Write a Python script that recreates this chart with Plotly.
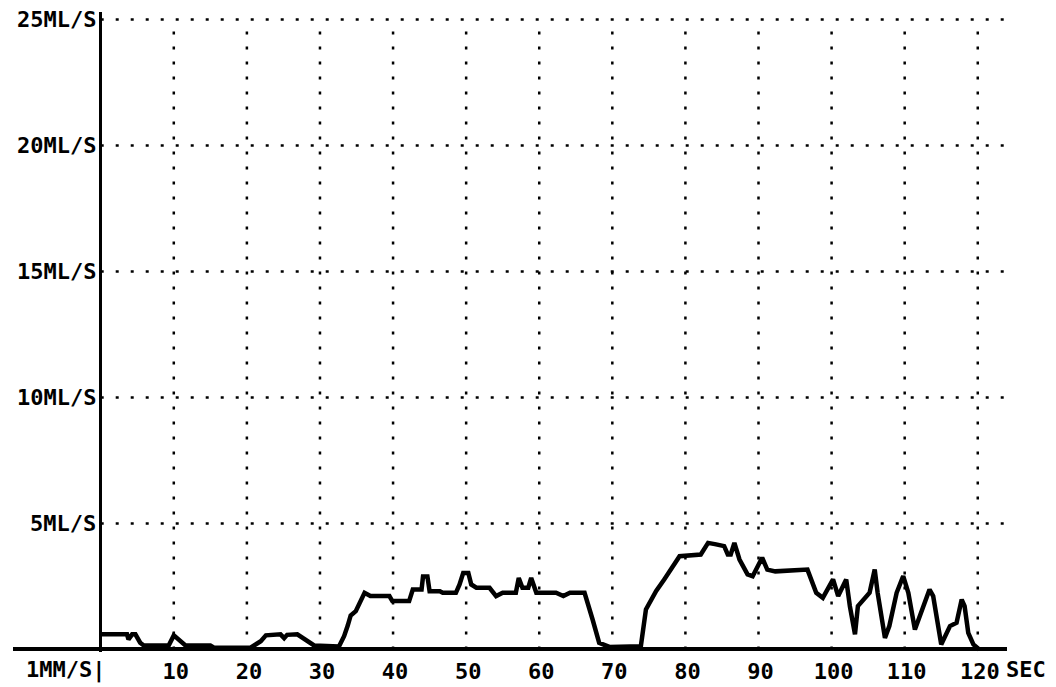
import plotly.graph_objects as go

# Flow curve (time in seconds, flow in ml/s)
t = [0.0, 3.6, 3.8, 4.3, 4.75, 5.4, 5.9, 9.3, 10.0, 10.9, 11.6, 15.0, 15.5, 20.5,
     21.9, 22.6, 24.6, 25.1, 25.5, 26.9, 27.6, 28.3, 29.2, 32.6, 33.3, 33.8, 34.2,
     34.9, 35.6, 36.1, 36.9, 37.6, 39.5, 39.9, 42.2, 42.7, 43.9, 44.1, 44.7, 45.0,
     46.4, 46.8, 48.6, 49.1, 49.6, 50.3, 50.7, 51.4, 53.2, 54.1, 55.0, 56.8, 57.2,
     57.7, 58.5, 58.9, 59.3, 59.6, 62.3, 63.3, 64.2, 66.2, 67.3, 68.2, 69.6, 73.9,
     74.6, 76.0, 77.1, 78.5, 79.2, 82.1, 83.1, 84.2, 85.3, 85.8, 86.2, 86.7, 87.4,
     88.5, 89.2, 90.5, 91.2, 92.3, 96.7, 97.9, 98.8, 100.2, 100.9, 102.0, 102.5,
     103.2, 103.6, 105.2, 105.9, 106.3, 107.3, 107.9, 108.9, 109.8, 110.5, 111.4,
     113.4, 113.9, 115.0, 116.2, 117.1, 117.8, 118.2, 118.7, 119.4, 120.2]
flow = [0.6, 0.6, 0.4, 0.6, 0.6, 0.27, 0.16, 0.16, 0.56, 0.33, 0.16, 0.16, 0.07, 0.07,
        0.33, 0.56, 0.6, 0.45, 0.58, 0.6, 0.46, 0.29, 0.16, 0.12, 0.53, 0.95, 1.35,
        1.52, 1.92, 2.25, 2.12, 2.12, 2.12, 1.92, 1.92, 2.38, 2.38, 2.9, 2.9, 2.31,
        2.31, 2.25, 2.25, 2.58, 3.04, 3.04, 2.58, 2.45, 2.45, 2.12, 2.25, 2.25, 2.84,
        2.45, 2.45, 2.84, 2.45, 2.25, 2.25, 2.12, 2.25, 2.25, 1.19, 0.26, 0.1, 0.13,
        1.59, 2.32, 2.78, 3.44, 3.7, 3.77, 4.23, 4.17, 4.1, 3.77, 3.77, 4.23, 3.57,
        2.98, 2.91, 3.64, 3.17, 3.1, 3.17, 2.25, 2.05, 2.78, 2.12, 2.78, 1.72,
        0.6, 1.72, 2.25, 3.17, 2.25, 0.46, 0.93, 2.25, 2.91, 2.25, 0.79,
        2.38, 2.12, 0.2, 0.93, 1.06, 1.98, 1.72, 0.66, 0.2, 0.0]

x_ticks = [10, 20, 30, 40, 50, 60, 70, 80, 90, 100, 110, 120]
x_tick_labels = [str(v) for v in x_ticks]
y_levels = [5, 10, 15, 20, 25]
y_labels = ["5ML/S", "10ML/S", "15ML/S", "20ML/S", "25ML/S"]
x_unit = "SEC"
scale_label = "1MM/S|"

X_MIN, X_MAX = -12, 124
Y_MIN, Y_MAX = -0.1, 25.3
FONT = dict(family="DejaVu Sans Mono", size=22, color="black", weight="bold")
DOT = "3px,12px"

fig = go.Figure()

# dotted horizontal grid (from the y axis to the right edge)
for yv in y_levels:
    fig.add_trace(go.Scatter(x=[0, X_MAX], y=[yv, yv], mode="lines",
                             line=dict(color="black", width=2.5, dash=DOT),
                             hoverinfo="skip", showlegend=False))
# dotted vertical grid
for xv in x_ticks:
    fig.add_trace(go.Scatter(x=[xv, xv], y=[0, y_levels[-1]], mode="lines",
                             line=dict(color="black", width=2.5, dash=DOT),
                             hoverinfo="skip", showlegend=False))

fig.add_trace(go.Scatter(x=t, y=flow, mode="lines",
                         line=dict(color="black", width=4.5),
                         showlegend=False))

for yv, lab in zip(y_levels, y_labels):
    fig.add_annotation(x=0, y=yv, xref="x", yref="y", text=lab, showarrow=False,
                       xanchor="right", yanchor="middle", xshift=-3, font=FONT)

fig.add_annotation(x=0, y=-0.028, xref="x", yref="paper",
                   text=scale_label, showarrow=False, xanchor="right",
                   yanchor="middle", xshift=6, font=FONT)
fig.add_annotation(x=1.019, y=-0.028, xref="paper", yref="paper", text=x_unit,
                   showarrow=False, xanchor="center", yanchor="middle", font=FONT)

fig.update_xaxes(range=[X_MIN, X_MAX], tickvals=x_ticks, ticktext=x_tick_labels,
                 showgrid=False, zeroline=True, zerolinecolor="black",
                 zerolinewidth=2.5, showline=False, ticks="",
                 tickfont=FONT, ticklabelshift=2, ticklabelstandoff=4)
fig.update_yaxes(range=[Y_MIN, Y_MAX], showgrid=False, zeroline=True,
                 zerolinecolor="black", zerolinewidth=4, showline=False,
                 showticklabels=False, ticks="")

fig.update_layout(width=1056, height=687,
                  margin=dict(l=13, r=49, t=12, b=35, autoexpand=False),
                  paper_bgcolor="white", plot_bgcolor="white")

fig.write_html("out.html", config={"displayModeBar": False})

# remove the browser's default page margin so the figure sits at (0, 0)
with open("out.html", "r", encoding="utf-8") as f:
    html = f.read()
html = html.replace("<head>",
                    "<head><style>html,body{margin:0;padding:0;overflow:hidden}</style>", 1)
with open("out.html", "w", encoding="utf-8") as f:
    f.write(html)
